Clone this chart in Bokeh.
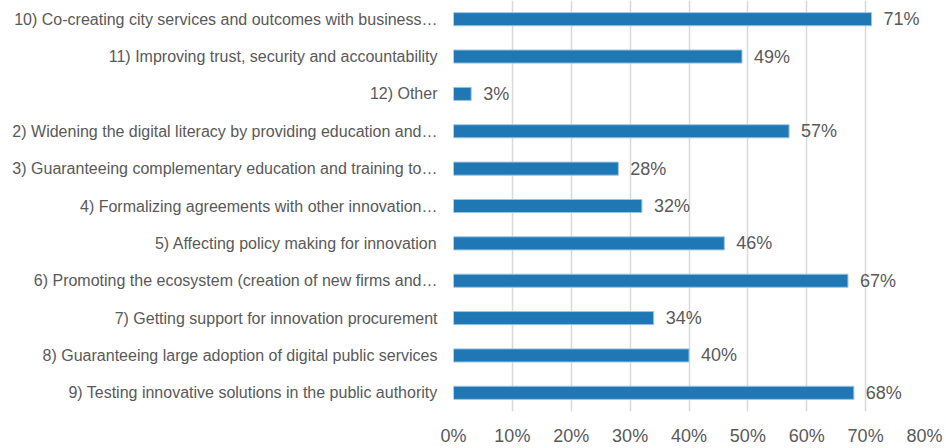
from bokeh.plotting import figure
from bokeh.models import ColumnDataSource, FactorRange, Range1d, FixedTicker, PrintfTickFormatter
from bokeh.embed import file_html
from bokeh.resources import INLINE
from bokeh.core.properties import value

categories = [
    "10) Co-creating city services and outcomes with business…",
    "11) Improving trust, security and accountability",
    "12) Other",
    "2) Widening the digital literacy by providing education and…",
    "3) Guaranteeing complementary education and training to…",
    "4) Formalizing agreements with other innovation…",
    "5) Affecting policy making for innovation",
    "6) Promoting the ecosystem (creation of new firms and…",
    "7) Getting support for innovation procurement",
    "8) Guaranteeing large adoption of digital public services",
    "9) Testing innovative solutions in the public authority",
]
values = [71, 49, 3, 57, 28, 32, 46, 67, 34, 40, 68]
x_ticks = [0, 10, 20, 30, 40, 50, 60, 70, 80]

labels = [f"{v}%" for v in values]
source = ColumnDataSource(dict(cat=categories, val=values, lab=labels))

FONT = "Liberation Sans"
GREY = "#595959"

p = figure(
    width=946, height=448,
    y_range=FactorRange(factors=list(reversed(categories)), range_padding=0),
    x_range=Range1d(0, 80),
    output_backend="svg", toolbar_location=None,
    min_border_top=0, min_border_right=22, min_border_left=453, min_border_bottom=0,
)
p.outline_line_color = None
p.background_fill_color = "white"
p.border_fill_color = "white"

p.hbar(y="cat", right="val", left=0, height=0.35, source=source,
       fill_color="#1f77b4", line_color="#9cc3e4", line_width=1)

p.text(x="val", y="cat", text="lab", source=source, x_offset=12,
       text_align="left", text_baseline="middle",
       text_font=value(FONT), text_font_size="18px", text_color=GREY)

# x axis
p.xaxis.ticker = FixedTicker(ticks=x_ticks)
p.xaxis.formatter = PrintfTickFormatter(format="%d%%")
p.xaxis.axis_line_color = None
p.xaxis.major_tick_line_color = None
p.xaxis.minor_tick_line_color = None
p.xaxis.major_tick_out = 0
p.xaxis.major_tick_in = 0
p.xaxis.minor_tick_out = 0
p.xaxis.major_label_text_font = FONT
p.xaxis.major_label_text_font_size = "18px"
p.xaxis.major_label_text_color = GREY
p.xaxis.major_label_standoff = 14

# y axis
p.yaxis.axis_line_color = None
p.yaxis.major_tick_line_color = None
p.yaxis.minor_tick_line_color = None
p.yaxis.major_tick_out = 0
p.yaxis.major_tick_in = 0
p.yaxis.minor_tick_out = 0
p.yaxis.major_label_text_font = FONT
p.yaxis.major_label_text_font_size = "16px"
p.yaxis.major_label_text_color = GREY
p.yaxis.major_label_standoff = 16

p.xgrid.grid_line_color = "#d9d9d9"
p.xgrid.grid_line_width = 1.5
p.ygrid.grid_line_color = None

open("out.html", "w").write(file_html(p, INLINE))
